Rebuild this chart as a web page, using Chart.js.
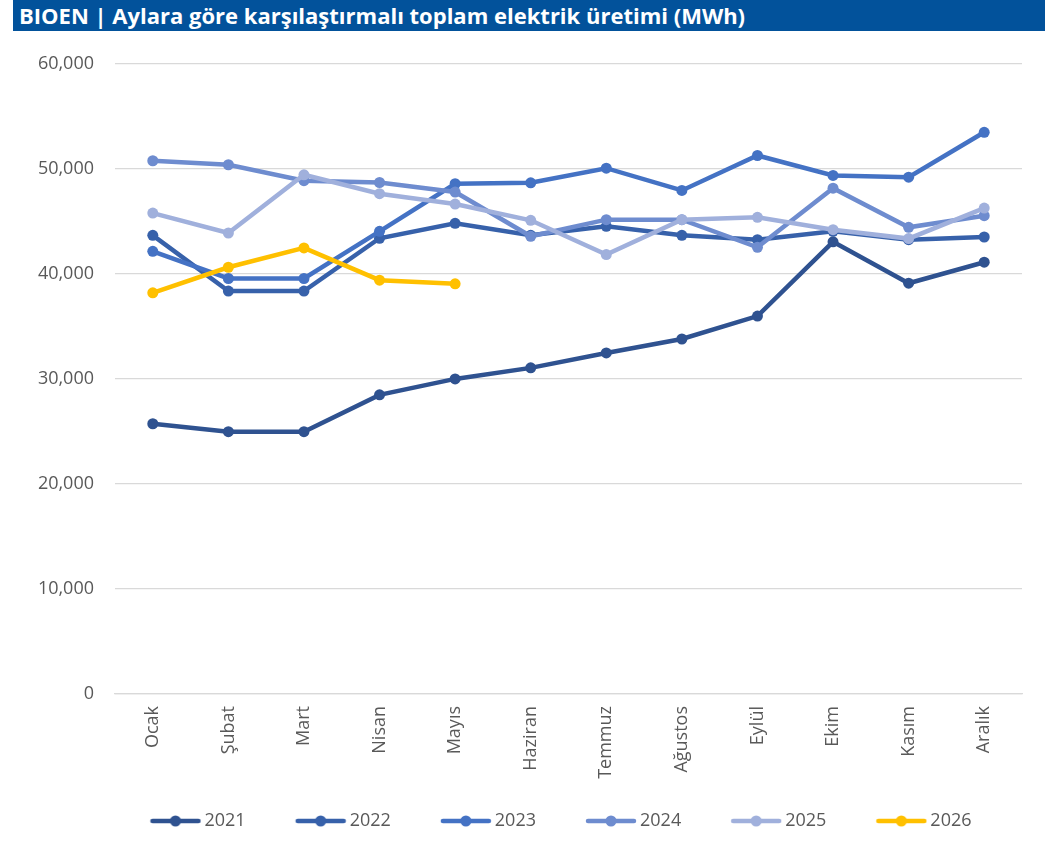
<!DOCTYPE html>
<html>
<head>
<meta charset="utf-8">
<script src="https://cdn.jsdelivr.net/npm/chart.js@4/dist/chart.umd.min.js"></script>
<style>
  html, body { margin: 0; padding: 0; background: #fff; }
  #titleBar {
    position: absolute; left: 13px; top: 0; width: 1032px; height: 31px;
    background: #02529b; color: #fff;
    font: bold 22px "Open Sans", sans-serif; line-height: 31px;
    padding-left: 6px; box-sizing: border-box; white-space: nowrap;
  }
  #wrap { position: absolute; left: 0; top: 32px; width: 1045px; height: 830px; }
</style>
</head>
<body>
<div id="titleBar">BIOEN | Aylara göre karşılaştırmalı toplam elektrik üretimi (MWh)</div>
<div id="wrap"><canvas id="prodChart"></canvas></div>
<script>
// Months
const months = ["Ocak", "Şubat", "Mart", "Nisan", "Mayıs", "Haziran", "Temmuz", "Ağustos", "Eylül", "Ekim", "Kasım", "Aralık"]

// Monthly production (MWh)
const y2021 = [25730, 24970, 24970, 28480, 30000, 31050, 32470, 33800, 35980, 43050, 39110, 41110]
const y2022 = [43670, 38360, 38360, 43390, 44810, 43670, 44530, 43670, 43260, 44050, 43260, 43510]
const y2023 = [42150, 39560, 39560, 44050, 48580, 48670, 50060, 47940, 51270, 49370, 49210, 53480]
const y2024 = [50770, 50390, 48870, 48700, 47790, 43580, 45160, 45160, 42530, 48160, 44430, 45540]
const y2025 = [45790, 43890, 49430, 47630, 46650, 45100, 41840, 45160, 45380, 44210, 43360, 46260]
const y2026 = [38200, 40630, 42470, 39400, 39050]

const seriesNames = ["2021", "2022", "2023", "2024", "2025", "2026"]
const seriesValues = [y2021, y2022, y2023, y2024, y2025, y2026]
const seriesColors = ["#2f5290", "#3761aa", "#4472c4", "#6e8ccf", "#a0b0dc", "#ffc000"]

// y axis ticks
const yMin = 0
const yMax = 60000
const yStep = 10000

// legend symbol: line with a dot, drawn on the right side of a wider image
function legendSymbol(color) {
  const c = document.createElement("canvas")
  c.width = 95
  c.height = 14
  const ctx = c.getContext("2d")
  ctx.strokeStyle = color
  ctx.lineWidth = 4.5
  ctx.lineCap = "round"
  ctx.beginPath()
  ctx.moveTo(46, 7)
  ctx.lineTo(92, 7)
  ctx.stroke()
  ctx.fillStyle = color
  ctx.beginPath()
  ctx.arc(69, 7, 5.5, 0, Math.PI * 2)
  ctx.fill()
  return c
}

const datasets = seriesNames.map((name, i) => ({
  label: name,
  data: seriesValues[i],
  borderColor: seriesColors[i],
  backgroundColor: seriesColors[i],
  borderWidth: 4.5,
  pointRadius: 5.5,
  pointHoverRadius: 5.5,
  pointBorderWidth: 0,
  pointStyle: "circle",
  tension: 0,
  order: seriesNames.length - i,
  legendImg: legendSymbol(seriesColors[i]),
}))

const tickFont = { family: "'Open Sans', sans-serif", size: 18 }

// nudge the legend row to the right so it sits where the original one does
const legendShift = {
  id: "legendShift",
  afterLayout(chart) {
    if (chart.legend) {
      chart.legend.left += 31
      chart.legend.right += 31
    }
  },
}

document.addEventListener("DOMContentLoaded", () => {
  const canvas = document.getElementById("prodChart")
  new Chart(canvas, {
    type: "line",
    data: { labels: months, datasets: datasets },
    plugins: [legendShift],
    options: {
      responsive: true,
      maintainAspectRatio: false,
      animation: false,
      layout: { padding: { top: 30, right: 23, bottom: 22, left: 0 } },
      scales: {
        x: {
          offset: true,
          grid: { display: false, drawTicks: false },
          border: { display: true, color: "#d9d9d9", width: 1.3 },
          ticks: { color: "#595959", font: tickFont, minRotation: 90, maxRotation: 90, padding: 12, autoSkip: false },
          afterFit: (s) => { s.height = 106 },
        },
        y: {
          min: yMin,
          max: yMax,
          grid: { color: "#d9d9d9", lineWidth: 1.3, drawTicks: false },
          border: { display: false },
          ticks: {
            stepSize: yStep,
            color: "#595959",
            font: tickFont,
            padding: 21,
            callback: (v) => v.toLocaleString("en-US"),
          },
          afterFit: (s) => { s.width = 115 },
        },
      },
      plugins: {
        tooltip: { enabled: false },
        legend: {
          position: "bottom",
          labels: {
            usePointStyle: true,
            pointStyleWidth: 83,
            padding: 12,
            color: "#595959",
            font: { family: "'Open Sans', sans-serif", size: 18 },
            sort: (a, b) => a.datasetIndex - b.datasetIndex,
            generateLabels: (chart) => chart.data.datasets.map((ds, i) => ({
              text: ds.label,
              pointStyle: ds.legendImg,
              fillStyle: ds.borderColor,
              strokeStyle: ds.borderColor,
              lineWidth: 0,
              fontColor: "#595959",
              hidden: false,
              datasetIndex: i,
            })),
          },
        },
      },
    },
  })
})
</script>
</body>
</html>
